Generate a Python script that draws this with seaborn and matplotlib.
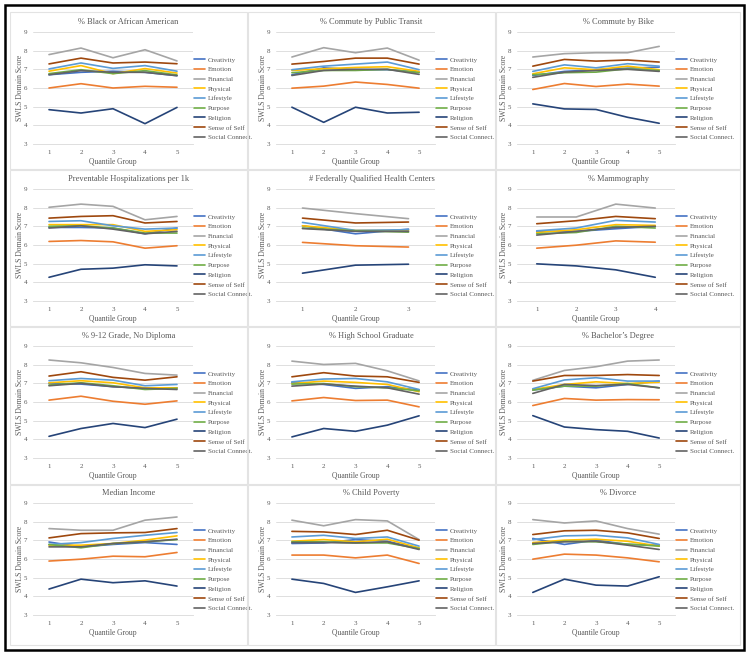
import matplotlib
matplotlib.use("Agg")
import numpy as np
import pandas as pd
import seaborn as sns
import matplotlib.pyplot as plt
from matplotlib.patches import Rectangle

domains = ["Creativity", "Emotion", "Financial", "Physical", "Lifestyle",
           "Purpose", "Religion", "Sense of Self", "Social Connect."]
colors = ["#4472C4", "#ED7D31", "#A5A5A5", "#FFC000", "#5B9BD5",
          "#70AD47", "#264478", "#9E480E", "#636363"]

titles = ["% Black or African American", "% Commute by Public Transit", "% Commute by Bike",
          "Preventable Hospitalizations per 1k", "# Federally Qualified Health Centers", "% Mammography",
          "% 9-12 Grade, No Diploma", "% High School Graduate", "% Bachelor\u2019s Degree",
          "Median Income", "% Child Poverty", "% Divorce"]

# rows: Creativity, Emotion, Financial, Physical, Lifestyle, Purpose, Religion, Sense of Self, Social Connect.
black = [[6.71, 6.84, 6.90, 6.84, 6.66], [6.00, 6.23, 6.00, 6.09, 6.04], [7.79, 8.14, 7.62, 8.05, 7.45],
         [6.90, 7.20, 6.77, 7.04, 6.80], [7.02, 7.34, 7.05, 7.20, 6.90], [6.77, 6.98, 6.77, 6.93, 6.70],
         [4.84, 4.66, 4.89, 4.09, 4.96], [7.29, 7.60, 7.34, 7.39, 7.30], [6.71, 6.93, 6.84, 6.84, 6.66]]
transit = [[6.71, 7.08, 6.98, 6.98, 6.85], [5.99, 6.10, 6.32, 6.19, 5.99], [7.66, 8.16, 7.89, 8.14, 7.49],
           [6.94, 7.03, 7.10, 7.14, 6.89], [6.98, 7.17, 7.28, 7.39, 6.98], [6.82, 6.94, 6.94, 7.00, 6.82],
           [4.97, 4.16, 4.97, 4.66, 4.70], [7.28, 7.42, 7.60, 7.60, 7.28], [6.67, 6.94, 7.00, 7.00, 6.73]]
bike = [[6.67, 6.89, 6.98, 7.06, 7.12], [5.92, 6.24, 6.08, 6.21, 6.10], [7.66, 7.84, 7.89, 7.89, 8.23],
        [6.76, 7.08, 6.98, 7.17, 6.98], [6.89, 7.24, 7.08, 7.30, 7.17], [6.71, 6.82, 6.85, 7.03, 6.94],
        [5.15, 4.88, 4.85, 4.43, 4.11], [7.17, 7.53, 7.44, 7.50, 7.39], [6.57, 6.85, 6.94, 7.00, 6.89]]
hosp = [[6.94, 6.94, 6.91, 6.60, 6.91], [6.19, 6.24, 6.17, 5.83, 5.96], [8.02, 8.19, 8.07, 7.35, 7.53],
        [7.09, 7.09, 7.09, 6.73, 6.82], [7.26, 7.30, 7.03, 6.85, 6.91], [7.00, 7.03, 6.91, 6.64, 6.64],
        [4.27, 4.70, 4.76, 4.94, 4.88], [7.44, 7.53, 7.57, 7.18, 7.26], [6.91, 7.03, 6.85, 6.60, 6.73]]
fqhc = [[7.03, 6.60, 6.85], [6.14, 5.96, 5.89], [7.98, 7.68, 7.41],
        [7.03, 6.78, 6.78], [7.21, 6.78, 6.82], [6.91, 6.76, 6.69],
        [4.49, 4.92, 4.97], [7.44, 7.18, 7.23], [6.88, 6.73, 6.73]]
mammo = [[6.73, 6.73, 6.87, 7.00], [5.83, 5.99, 6.22, 6.15], [7.50, 7.50, 8.19, 7.98],
         [6.67, 6.82, 7.09, 7.05], [6.76, 6.91, 7.32, 7.23], [6.60, 6.67, 7.00, 6.91],
         [4.99, 4.88, 4.67, 4.27], [7.14, 7.30, 7.53, 7.41], [6.53, 6.73, 6.94, 7.00]]
nodiploma = [[7.00, 6.96, 6.82, 6.73, 6.76], [6.10, 6.31, 6.04, 5.88, 6.06], [8.25, 8.10, 7.85, 7.53, 7.44],
             [7.03, 7.14, 7.03, 6.76, 6.76], [7.14, 7.26, 7.17, 6.87, 6.94], [6.91, 7.03, 6.87, 6.67, 6.73],
             [4.16, 4.58, 4.85, 4.63, 5.08], [7.39, 7.62, 7.32, 7.17, 7.35], [6.87, 7.00, 6.82, 6.73, 6.67]]
hsgrad = [[7.05, 6.94, 6.73, 6.82, 6.64], [6.06, 6.24, 6.08, 6.10, 5.74], [8.19, 8.01, 8.07, 7.67, 7.13],
          [6.99, 7.12, 7.05, 6.94, 6.55], [7.08, 7.23, 7.26, 7.08, 6.67], [6.96, 6.99, 6.82, 6.76, 6.60],
          [4.13, 4.58, 4.43, 4.76, 5.26], [7.35, 7.57, 7.39, 7.35, 7.05], [6.85, 6.96, 6.85, 6.76, 6.42]]
bachelor = [[6.64, 6.85, 6.76, 6.94, 7.12], [5.81, 6.19, 6.10, 6.13, 6.12], [7.16, 7.69, 7.89, 8.19, 8.25],
            [6.67, 6.94, 7.08, 6.99, 7.06], [6.71, 7.18, 7.30, 7.12, 7.12], [6.64, 6.85, 6.85, 6.99, 6.76],
            [5.27, 4.66, 4.52, 4.43, 4.07], [7.12, 7.42, 7.42, 7.47, 7.42], [6.46, 6.94, 6.88, 6.94, 6.76]]
income = [[6.91, 6.65, 6.78, 6.88, 6.78], [5.89, 5.99, 6.15, 6.12, 6.35], [7.63, 7.54, 7.54, 8.08, 8.25],
          [6.74, 6.74, 6.83, 7.01, 7.24], [6.78, 6.88, 7.10, 7.27, 7.42], [6.78, 6.60, 6.83, 6.92, 7.04],
          [4.39, 4.92, 4.73, 4.83, 4.55], [7.13, 7.36, 7.40, 7.42, 7.63], [6.65, 6.65, 6.83, 6.92, 7.06]]
poverty = [[6.83, 6.86, 7.04, 6.95, 6.56], [6.21, 6.21, 6.06, 6.21, 5.76], [8.08, 7.78, 8.11, 8.04, 7.04],
           [6.95, 7.04, 6.92, 7.06, 6.60], [7.18, 7.27, 7.10, 7.18, 6.69], [6.92, 6.92, 6.86, 6.86, 6.56],
           [4.92, 4.69, 4.21, 4.51, 4.83], [7.48, 7.45, 7.31, 7.54, 7.01], [6.88, 6.88, 6.86, 6.92, 6.51]]
divorce = [[7.10, 6.78, 7.01, 6.78, 6.74], [5.99, 6.26, 6.21, 6.06, 5.85], [8.11, 7.93, 8.04, 7.63, 7.33],
           [6.88, 7.01, 7.06, 6.95, 6.69], [7.04, 7.24, 7.27, 7.13, 6.78], [6.78, 6.95, 6.92, 6.80, 6.69],
           [4.21, 4.92, 4.60, 4.55, 5.05], [7.31, 7.51, 7.54, 7.40, 7.10], [6.83, 6.92, 6.95, 6.74, 6.51]]

panels = [black, transit, bike, hosp, fqhc, mammo, nodiploma, hsgrad, bachelor, income, poverty, divorce]

sns.set_theme(style="white")
plt.rcParams["font.family"] = ["Liberation Serif", "DejaVu Serif"]

W, H = 749, 655
fig = plt.figure(figsize=(W / 100, H / 100), dpi=100)
fig.patch.set_facecolor("white")

col_axes = [(33, 193), (276, 435), (517, 675)]
row_axes = [(32, 144), (189, 301), (346, 458), (503, 615)]
col_panel = [(10, 247), (248, 495), (496, 740)]
row_panel = [(12, 169), (170, 326), (327, 484), (485, 645)]

grey_txt = "#595959"
palette = dict(zip(domains, colors))

for i, (title, data) in enumerate(zip(titles, panels)):
    r, c = divmod(i, 3)
    x0, x1 = col_axes[c]
    y0, y1 = row_axes[r]
    px0, px1 = col_panel[c]
    py0, py1 = row_panel[r]
    fig.patches.append(Rectangle((px0 / W, 1 - py1 / H), (px1 - px0) / W, (py1 - py0) / H,
                                 transform=fig.transFigure, fill=False,
                                 edgecolor="#E3E3E3", linewidth=0.8))
    ax = fig.add_axes([x0 / W, 1 - y1 / H, (x1 - x0) / W, (y1 - y0) / H])
    n = len(data[0])
    rows = []
    for d, vals in zip(domains, data):
        for q, v in enumerate(vals, start=1):
            rows.append({"Quantile": q, "Score": v, "Domain": d})
    df = pd.DataFrame(rows)
    sns.lineplot(data=df, x="Quantile", y="Score", hue="Domain", hue_order=domains,
                 palette=palette, linewidth=1.2, errorbar=None, ax=ax, legend=True)
    ax.set_xlim(0.5, n + 0.5)
    ax.set_ylim(3, 9)
    ax.set_xticks(range(1, n + 1))
    ax.set_yticks(range(3, 10))
    ax.grid(axis="y", color="#D9D9D9", linewidth=0.6)
    ax.set_axisbelow(True)
    for s in ["top", "right", "left"]:
        ax.spines[s].set_visible(False)
    ax.spines["bottom"].set_color("#D9D9D9")
    ax.spines["bottom"].set_linewidth(0.6)
    ax.tick_params(axis="both", length=0, labelsize=5, colors=grey_txt, pad=4)
    ax.set_xlabel("Quantile Group", fontsize=5.5, color=grey_txt)
    ax.set_ylabel("SWLS Domain Score", fontsize=5.5, color=grey_txt)
    ax.xaxis.set_label_coords(0.5, -14 / 112)
    ax.yaxis.set_label_coords(-9 / 160, 0.5)
    fig.text(((px0 + px1) / 2) / W, 1 - (y0 - 10) / H, title, ha="center", va="center",
             fontsize=6, color=grey_txt)
    leg = ax.legend(loc="center left", bbox_to_anchor=(1.005, 0.406), frameon=False,
                    fontsize=5, handlelength=1.6, handletextpad=0.4, labelspacing=0.55,
                    borderpad=0, borderaxespad=0)
    for t in leg.get_texts():
        t.set_color(grey_txt)
    for h in leg.get_lines():
        h.set_linewidth(1.2)

fig.patches.append(Rectangle((5 / W, 5 / H), (744 - 5) / W, (650 - 5) / H,
                             transform=fig.transFigure, fill=False,
                             edgecolor="black", linewidth=1.8))

fig.savefig("out.png", dpi=100)
